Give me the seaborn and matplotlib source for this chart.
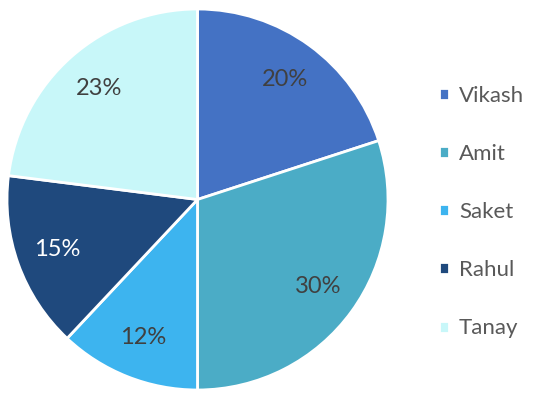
import matplotlib
matplotlib.use('Agg')
import matplotlib.pyplot as plt
import seaborn as sns

# chart data
names = ['Vikash', 'Amit', 'Saket', 'Rahul', 'Tanay']
shares = [20, 30, 12, 15, 23]
colors = ['#4472C4', '#4BACC6', '#3DB4EF', '#1F497D', '#C8F7F9']
label_colors = ['#404040', '#404040', '#404040', '#FFFFFF', '#404040']

sns.set_theme(style='white')
plt.rcParams['font.family'] = ['Lato', 'DejaVu Sans']

fig = plt.figure(figsize=(5.36, 3.96), dpi=100)
ax = fig.add_axes([7 / 536, 6 / 396, 381 / 536, 381 / 396])

wedges, texts, autotexts = ax.pie(
    shares,
    colors=colors,
    startangle=90,
    counterclock=False,
    autopct='%1.0f%%',
    pctdistance=0.78,
    radius=1.0,
    wedgeprops=dict(edgecolor='white', linewidth=2),
    textprops=dict(fontsize=17),
)
for t, c in zip(autotexts, label_colors):
    t.set_color(c)
ax.set_aspect('equal')
ax.set_xlim(-1.0, 1.0)
ax.set_ylim(-1.0, 1.0)

fig.legend(
    wedges, names,
    loc='center left',
    bbox_to_anchor=(419 / 536, 1 - 212 / 396),
    frameon=False,
    fontsize=16,
    labelcolor='#595959',
    handlelength=0.45,
    handleheight=0.45,
    handletextpad=0.45,
    labelspacing=1.72,
)

fig.savefig('out.png', dpi=100)
